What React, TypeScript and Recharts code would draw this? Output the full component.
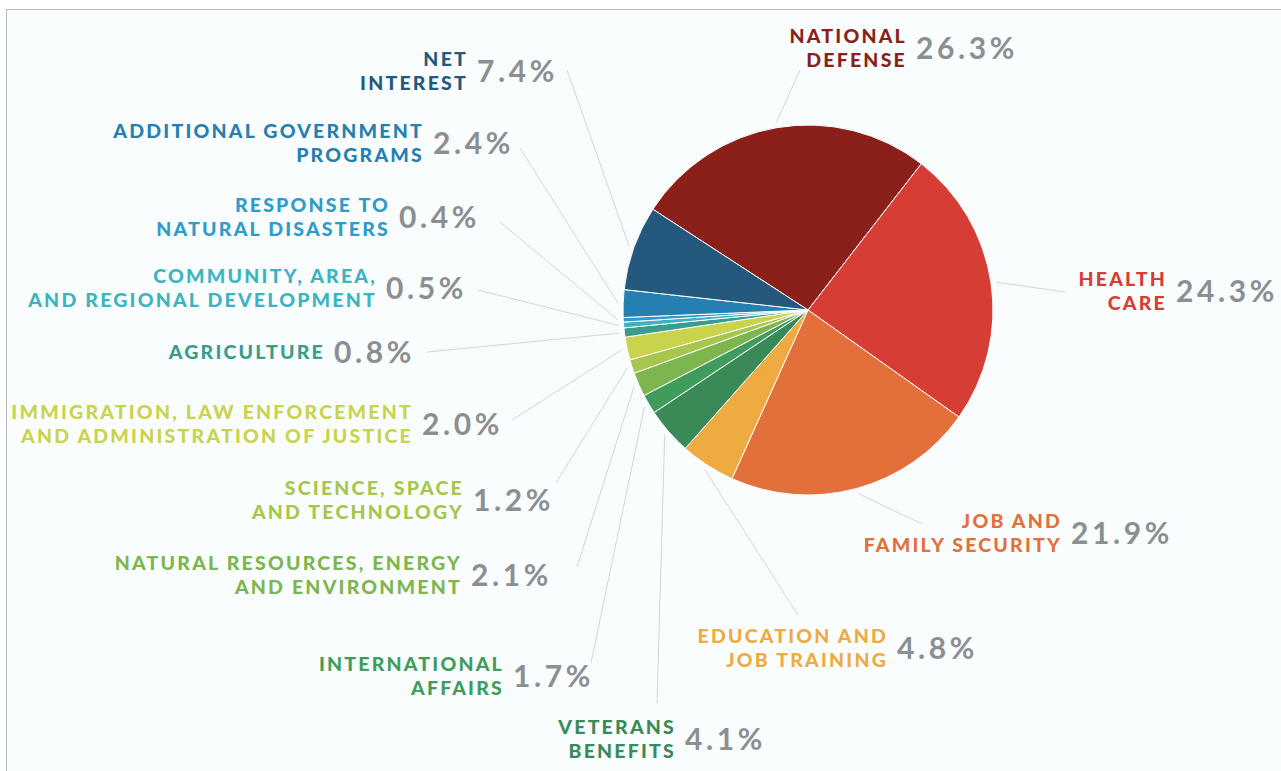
import React from 'react'
import { PieChart, Pie, Cell } from 'recharts'

// budget categories, clockwise from the top
const categories = [
  'National Defense',
  'Health Care',
  'Job and Family Security',
  'Education and Job Training',
  'Veterans Benefits',
  'International Affairs',
  'Natural Resources, Energy and Environment',
  'Science, Space and Technology',
  'Immigration, Law Enforcement and Administration of Justice',
  'Agriculture',
  'Community, Area, and Regional Development',
  'Response to Natural Disasters',
  'Additional Government Programs',
  'Net Interest',
]

const shares = [26.3, 24.3, 21.9, 4.8, 4.1, 1.7, 2.1, 1.2, 2.0, 0.8, 0.5, 0.4, 2.4, 7.4]

const labelLines = [
  ['NATIONAL', 'DEFENSE'],
  ['HEALTH', 'CARE'],
  ['JOB AND', 'FAMILY SECURITY'],
  ['EDUCATION AND', 'JOB TRAINING'],
  ['VETERANS', 'BENEFITS'],
  ['INTERNATIONAL', 'AFFAIRS'],
  ['NATURAL RESOURCES, ENERGY', 'AND ENVIRONMENT'],
  ['SCIENCE, SPACE', 'AND TECHNOLOGY'],
  ['IMMIGRATION, LAW ENFORCEMENT', 'AND ADMINISTRATION OF JUSTICE'],
  ['AGRICULTURE'],
  ['COMMUNITY, AREA,', 'AND REGIONAL DEVELOPMENT'],
  ['RESPONSE TO', 'NATURAL DISASTERS'],
  ['ADDITIONAL GOVERNMENT', 'PROGRAMS'],
  ['NET', 'INTEREST'],
]

const COLORS = [
  '#8b1f1a',
  '#d63d34',
  '#e3703a',
  '#edab42',
  '#3a8a58',
  '#3f9c5c',
  '#7db54e',
  '#a6c64d',
  '#c9d34b',
  '#3a9c8d',
  '#3cb4c0',
  '#2d9bcb',
  '#2580b1',
  '#24587c',
]

// where each callout sits: right edge of the name, middle of the block, end of the leader
const labelSpots = [
  { x: 905, y: 48, lx: 800, ly: 70 },
  { x: 1165, y: 291, lx: 1065, ly: 292 },
  { x: 1060, y: 533, lx: 922, ly: 524 },
  { x: 886, y: 648, lx: 798, ly: 615 },
  { x: 674, y: 739, lx: 657, ly: 703 },
  { x: 502, y: 676, lx: 591, ly: 663 },
  { x: 460, y: 575, lx: 577, ly: 567 },
  { x: 462, y: 500, lx: 556, ly: 483 },
  { x: 411, y: 424, lx: 512, ly: 420 },
  { x: 323, y: 352, lx: 427, ly: 352 },
  { x: 375, y: 288, lx: 478, ly: 290 },
  { x: 388, y: 217, lx: 500, ly: 222 },
  { x: 422, y: 143, lx: 520, ly: 148 },
  { x: 466, y: 71, lx: 567, ly: 70 },
]

const data = categories.map((name, i) => ({ name, value: shares[i] }))

const RAD = Math.PI / 180
const PITCH = 23.5

function renderLabel(props: any) {
  const { cx, cy, midAngle, outerRadius, index } = props
  const spot = labelSpots[index]
  const r = outerRadius + 5
  const sx = cx + r * Math.cos(-midAngle * RAD)
  const sy = cy + r * Math.sin(-midAngle * RAD)
  const lines = labelLines[index]
  const top = spot.y - ((lines.length - 1) * PITCH) / 2

  return (
    <g key={`label-${index}`}>
      <line x1={sx} y1={sy} x2={spot.lx} y2={spot.ly} stroke="#d4d6d6" strokeWidth={1} />
      <text
        textAnchor="end"
        fill={COLORS[index]}
        fontFamily="Lato, sans-serif"
        fontWeight={900}
        fontSize={19.5}
        letterSpacing={2.2}
      >
        {lines.map((line, i) => (
          <tspan key={i} x={spot.x + 2} y={top + i * PITCH + 7}>
            {line}
          </tspan>
        ))}
      </text>
      <text
        x={spot.x + 11}
        y={spot.y + 11}
        fill="#8c8f92"
        fontFamily="Lato, sans-serif"
        fontWeight={700}
        fontSize={30}
        letterSpacing={3.6}
      >
        {shares[index].toFixed(1)}%
      </text>
    </g>
  )
}

export default function App() {
  return (
    <div style={{ position: 'absolute', left: 0, top: 0, width: 1281, height: 771, background: '#ffffff' }}>
      <div
        style={{
          position: 'absolute',
          left: 6,
          top: 9,
          right: 0,
          bottom: 0,
          borderTop: '1px solid #b9b9b9',
          borderLeft: '1px solid #b9b9b9',
          background: '#f9fdfd',
        }}
      />
      <div style={{ position: 'absolute', left: 0, top: 0 }}>
        <PieChart width={1281} height={771} margin={{ top: 0, right: 0, bottom: 0, left: 0 }}>
          <Pie
            data={data}
            dataKey="value"
            nameKey="name"
            cx={808}
            cy={310}
            outerRadius={185}
            startAngle={147}
            endAngle={-213}
            stroke="#ffffff"
            strokeWidth={1}
            label={renderLabel}
            labelLine={false}
            isAnimationActive={false}
          >
            {data.map((entry, index) => (
              <Cell key={`cell-${index}`} fill={COLORS[index]} />
            ))}
          </Pie>
        </PieChart>
      </div>
    </div>
  )
}
